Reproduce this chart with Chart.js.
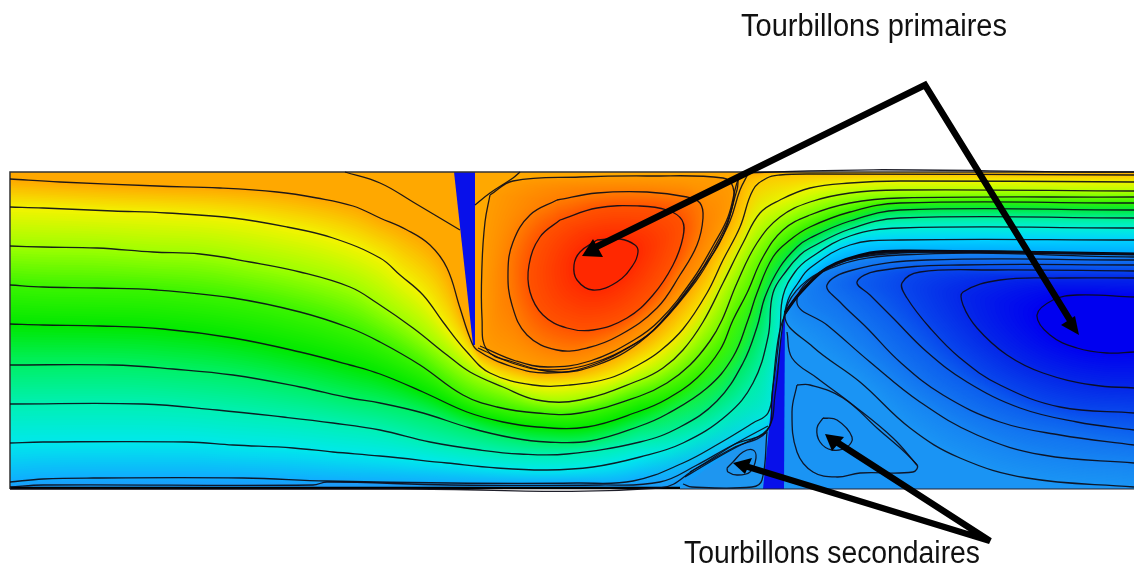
<!DOCTYPE html>
<html>
<head>
<meta charset="utf-8">
<style>body{margin:0;background:#fff}canvas{display:block}</style>
<script src="https://cdn.jsdelivr.net/npm/chart.js@4"></script>
</head>
<body>
<canvas id="myChart" width="1134" height="566"></canvas>
<script>
// streamlines of the channel, top to bottom
const streamA = [[10,179],[60,182],[157,186],[220,188],[277,192],[317,198],[353,206],[380,218],[407,230],[430,245],[447,268],[460,308],[470,338],[477,350],[513,367],[547,373],[587,367],[633,345],[657,327],[693,283],[713,250],[727,223],[737,190],[743,173],[1134,172]];
const streamB = [[10,207],[43,208],[113,211],[167,213],[233,218],[287,227],[333,238],[380,258],[400,275],[423,295],[443,322],[467,352],[490,373],[533,385],[570,385],[610,378],[640,364],[660,351],[683,329],[707,293],[723,260],[740,227],[753,190],[767,178],[780,175],[810,174],[1134,175]];
const streamC = [[10,246],[43,247],[97,248],[153,252],[200,254],[250,262],[300,272],[350,287],[377,303],[413,328],[447,355],[470,372],[503,387],[537,400],[580,400],[640,380],[663,368],[683,350],[703,322],[723,283],[743,243],[760,213],[780,200],[810,188],[850,183],[900,181],[1134,182]];
const streamD = [[10,285],[43,287],[97,288],[157,290],[233,298],[300,312],[350,328],[380,342],[420,365],[463,395],[497,407],[537,413],[580,413],[640,396],[667,383],[690,365],[710,341],[722,320],[737,283],[757,243],[780,217],[810,202],[850,193],[900,190],[1134,191]];
const streamE = [[10,324],[43,325],[100,326],[163,329],[233,338],[300,352],[350,365],[380,374],[423,392],[467,412],[503,422],[537,427],[587,427],[640,411],[667,399],[697,378],[720,350],[733,320],[747,293],[763,257],[783,230],[810,215],[850,203],[900,198],[1134,197]];
const streamF = [[10,365],[113,365],[173,369],[233,375],[300,387],[350,398],[380,403],[423,413],[470,428],[513,438],[547,442],[590,441],[640,426],[667,414],[707,388],[733,357],[748,320],[757,293],[773,257],[790,240],[810,227],[850,212],[900,203],[1134,203]];
const streamG = [[10,404],[143,404],[217,410],[283,417],[333,423],[380,430],[430,442],[480,450],[520,454],[567,454],[640,442],[680,427],[717,401],[743,363],[757,327],[765,297],[780,267],[797,247],[810,238],[850,221],[900,210],[1134,210]];
const streamH = [[10,443],[43,442],[187,442],[233,445],[293,448],[333,452],[380,456],[447,463],[497,468],[547,470],[593,467],[640,457],[683,443],[727,415],[753,383],[768,337],[773,293],[787,270],[800,255],[810,248],[850,229],[900,218],[1134,218]];
const streamI = [[10,482],[43,479],[93,478],[243,478],[327,481],[450,483],[577,483],[633,481],[683,463],[720,443],[753,423],[768,413],[773,387],[780,330],[783,296],[795,272],[810,258],[850,236],[900,228],[1134,228]];
const streamJ = [[10,487],[43,485],[313,485],[327,482],[450,485],[600,485],[660,482],[697,465],[733,445],[767,430],[775,395],[782,330],[788,300],[798,283],[810,268],[850,245],[900,240],[1134,240]];
const streamK = [[10,489],[400,489],[660,488],[697,468],[733,448],[767,431],[772,395],[778,340],[785,315],[800,293],[827,268],[870,255],[910,252],[1134,254]];

// lines doubling the dividing streamline, and the short ones by the top wedge
const bundleA = [[478,348],[515,364],[547,370],[590,364],[636,343],[660,324],[696,281],[716,248],[730,221],[740,190],[748,174]];
const bundleB = [[480,346],[516,361],[548,367],[590,361],[634,340],[660,320],[693,279],[714,244],[728,217],[736,186],[740,174]];
const wedgeLeftLine = [[345,172],[380,183],[413,202],[460,230]];
const wedgeRightLine = [[475,205],[490,193],[513,178],[520,172]];
const hatchA = [[685,477],[700,468],[733,449],[766,433]];
const hatchB = [[690,472],[705,463],[735,444],[768,426]];

// closed contours of the red vortex, outer to inner
const redLoop0 = [[490,195],[513,181],[580,177],[647,176],[723,178],[733,187],[732,208],[720,242],[700,272],[673,308],[640,342],[597,365],[557,372],[513,362],[487,350],[482,318],[482,265],[485,222],[490,195]];
const redLoop1 = [[557,200],[597,193],[647,192],[687,197],[700,203],[703,218],[697,245],[680,275],[657,308],[620,335],[587,348],[557,350],[527,335],[512,305],[508,272],[513,242],[530,215],[557,200]];
const redLoop2 = [[560,220],[597,208],[640,206],[667,210],[682,220],[683,237],[673,265],[653,295],[627,318],[593,330],[567,328],[543,315],[530,292],[529,265],[540,237],[560,220]];
const redLoop3 = [[597,240],[620,239],[635,245],[638,252],[633,265],[617,282],[593,290],[577,280],[574,265],[580,252],[597,240]];

// contours of the blue vortex, they leave through the right edge
const blueLine7 = [[1134,254],[900,253],[820,272],[785,315],[813,347],[860,382],[910,428],[960,458],[1027,478],[1134,487]];
const blueLine6 = [[1134,257],[900,255],[820,273],[797,303],[827,325],[870,362],[920,402],[977,435],[1043,455],[1134,463]];
const blueLine5 = [[1134,260],[927,260],[853,270],[827,285],[840,302],[867,328],[900,362],[943,395],[1000,422],[1060,435],[1134,445]];
const blueLine4 = [[1134,265],[960,265],[877,271],[857,282],[870,295],[893,318],[927,352],[967,382],[1020,408],[1077,422],[1134,430]];
const blueLine3 = [[1134,271],[993,270],[920,272],[902,283],[907,298],[930,328],[960,358],[1000,385],[1060,407],[1134,413]];
const blueLine2 = [[1134,278],[1060,278],[1000,280],[963,292],[963,305],[977,328],[1007,355],[1043,373],[1093,385],[1134,388]];
const blueLine1 = [[1134,297],[1077,295],[1053,300],[1037,315],[1050,335],[1077,348],[1107,353],[1134,352]];

// secondary vortices
const secRightOuter = [[797,385],[810,385],[843,398],[877,428],[917,465],[913,472],[860,473],[837,477],[813,472],[797,452],[792,412],[797,385]];
const secRightLine = [[787,332],[792,358],[817,378],[853,405],[893,438],[917,465]];
const secRightInner = [[823,418],[837,420],[852,437],[847,447],[832,450],[820,442],[817,428],[823,418]];
const secLeftInner = [[727,468],[733,462],[743,452],[753,450],[756,458],[750,472],[737,475],[728,472],[727,468]];
const secLeftOuter = [[683,484],[692,487],[752,487],[762,480],[767,432]];
const secLeftEdge = [[682,488],[707,468],[735,449],[767,431],[764,488],[682,488]];

// the two thin blue obstacles
const wedgeTop = [[454,172],[475,172],[475,345],[473,345],[454,172]];
const wedgeBottom = [[785,312],[784,489],[763,489],[772,398],[785,312]];

// walls and the dividing line over the step
const frameLine = [[10,489],[10,172],[1134,172]];
const bottomWall = [[10,488],[680,488]];
const bottomWallEnd = [[680,489],[1134,489]];
const stepLine = [[785,313],[800,293],[827,268],[870,253],[910,251],[1134,254]];
const stepBlock = [[1134,254],[910,252],[870,255],[827,268],[800,293],[785,315],[784,489],[1134,489],[1134,254]];

// annotation arrows
const arrowPrimary = [[590,250],[925,85],[1073,325]];
const arrowSecondary = [[745,466],[990,541],[835,441]];
const headA = [[582,256],[593,239],[603,257],[582,256]];
const headB = [[1079,335],[1061,325],[1075,316],[1079,335]];
const headC = [[733,463],[752,458],[745,474],[733,463]];
const headD = [[825,434],[844,437],[832,451],[825,434]];

const labelTexts = ["Tourbillons primaires", "Tourbillons secondaires"];
const labelX = [741, 684];
const labelY = [36, 563];
const labelW = [266, 296];

const channelStreams = [streamA, streamB, streamC, streamD, streamE, streamF, streamG, streamH, streamI, streamJ, streamK];
const channelColors = ["#ffa800", "#f2f400", "#9cff00", "#38f400", "#00e800", "#00f068", "#00f0b4", "#00e8ec", "#10aaff", "#1c9cf8", "#1e96f4"];
const channelColorsRight = ["#ffa800", "#ffc400", "#eef400", "#b4ff00", "#70ff00", "#30f000", "#00e840", "#00f094", "#00f0d8", "#00d0ff", "#00a8ff"];
const redLoops = [redLoop0, redLoop1, redLoop2, redLoop3];
const redColors = ["#ff9c00", "#ff7c00", "#ff5200", "#ff2800"];
const blueLines = [blueLine7, blueLine6, blueLine5, blueLine4, blueLine3, blueLine2, blueLine1];
const blueColors = ["#1a94f4", "#1684f2", "#1272f0", "#0c5eee", "#0846ec", "#0426e8", "#0000f0"];

const curved = [].concat(channelStreams, redLoops, blueLines, [bundleA, bundleB, wedgeLeftLine, wedgeRightLine, hatchA, hatchB,
  secRightOuter, secRightLine, secRightInner, secLeftInner, secLeftOuter]);

function ds(points, opts) {
  return Object.assign({
    data: points.map(p => ({ x: p[0], y: p[1] })),
    source: points,
    showLine: true,
    pointRadius: 0,
    borderColor: "rgba(12,12,24,0.92)",
    borderWidth: 1.3,
    tension: 0,
    order: 2,
  }, opts);
}

var datasets = curved.map(c => ds(c, { tension: 0.4 }));
datasets.push(ds(stepBlock, { borderWidth: 0 }));
[[secLeftEdge, "#1e96f0"], [wedgeTop, "#0810ea"], [wedgeBottom, "#0810ea"]].forEach(p => datasets.push(ds(p[0], { borderWidth: 0, solid: p[1] })));
[headA, headB, headC, headD].forEach(h => datasets.push(ds(h, { borderWidth: 0, solidTop: "#000", order: 0 })));
datasets.push(ds(frameLine, { borderColor: "#333", borderWidth: 1.5 }));
datasets.push(ds(bottomWall, { borderColor: "#000", borderWidth: 2.5 }));
datasets.push(ds(bottomWallEnd, { borderColor: "#223", borderWidth: 1.2 }));
datasets.push(ds(stepLine, { borderColor: "#050510", borderWidth: 3, tension: 0.3 }));
datasets.push(ds(arrowPrimary, { borderColor: "#000", borderWidth: 6.5, order: 1, borderJoinStyle: "miter" }));
datasets.push(ds(arrowSecondary, { borderColor: "#000", borderWidth: 6.5, order: 1, borderJoinStyle: "bevel" }));

// outline of one dataset in pixels, following the curve the library strokes
function outline(chart, source) {
  const idx = datasets.findIndex(d => d.source === source);
  const meta = chart.getDatasetMeta(idx);
  const pts = meta.data;
  meta.dataset.updateControlPoints(chart.chartArea, "x");
  const out = [[pts[0].x, pts[0].y]];
  for (let i = 0; i < pts.length - 1; i++) {
    const a = pts[i], b = pts[i + 1];
    if (!meta.dataset.options.tension) { out.push([b.x, b.y]); continue; }
    for (let s = 1; s <= 8; s++) {
      const t = s / 8, u = 1 - t;
      out.push([
        u*u*u*a.x + 3*u*u*t*a.cp2x + 3*u*t*t*b.cp1x + t*t*t*b.x,
        u*u*u*a.y + 3*u*u*t*a.cp2y + 3*u*t*t*b.cp1y + t*t*t*b.y,
      ]);
    }
  }
  return out;
}

function resample(line, n) {
  const lens = [0];
  for (let i = 1; i < line.length; i++) {
    lens.push(lens[i-1] + Math.hypot(line[i][0]-line[i-1][0], line[i][1]-line[i-1][1]));
  }
  const total = lens[lens.length-1];
  const out = [];
  let j = 0;
  for (let i = 0; i < n; i++) {
    const d = total * i / (n-1);
    while (j < line.length-2 && lens[j+1] < d) j++;
    const t = (d - lens[j]) / Math.max(lens[j+1] - lens[j], 1e-6);
    out.push([line[j][0] + t*(line[j+1][0]-line[j][0]), line[j][1] + t*(line[j+1][1]-line[j][1])]);
  }
  return out;
}

function mix(c1, c2, t) {
  const v = (c, i) => parseInt(c.substr(1 + i*2, 2), 16);
  const r = [0,1,2].map(i => Math.round(v(c1,i) + t*(v(c2,i)-v(c1,i))));
  return "rgb(" + r.join(",") + ")";
}

// paints the smooth colour field between neighbouring contours, outermost first.
// with colorsRight the palette changes along x between 640 and 790
function paintField(chart, lines, colors, closure, colorsRight) {
  const ctx = chart.ctx;
  const xs = chart.scales.x, ys = chart.scales.y;
  const corners = closure.map(c => [xs.getPixelForValue(c[0]), ys.getPixelForValue(c[1])]);
  const sampled = lines.map(l => resample(outline(chart, l), 320));
  for (let k = 0; k < sampled.length; k++) {
    const a = sampled[k];
    const b = sampled[k+1] || a;
    const steps = sampled[k+1] ? 16 : 1;
    for (let s = 0; s < steps; s++) {
      const t = s / steps;
      const left = sampled[k+1] ? mix(colors[k], colors[k+1], t) : colors[k];
      if (colorsRight) {
        const grad = ctx.createLinearGradient(xs.getPixelForValue(640), 0, xs.getPixelForValue(790), 0);
        grad.addColorStop(0, left);
        grad.addColorStop(1, sampled[k+1] ? mix(colorsRight[k], colorsRight[k+1], t) : colorsRight[k]);
        ctx.fillStyle = grad;
      } else {
        ctx.fillStyle = left;
      }
      ctx.beginPath();
      for (let i = 0; i < a.length; i++) {
        const x = a[i][0] + t*(b[i][0]-a[i][0]);
        const y = a[i][1] + t*(b[i][1]-a[i][1]);
        if (i == 0) ctx.moveTo(x, y); else ctx.lineTo(x, y);
      }
      corners.forEach(c => ctx.lineTo(c[0], c[1]));
      ctx.closePath();
      ctx.fill();
    }
  }
}

function fillSolid(chart, prop) {
  datasets.forEach((d, i) => {
    if (!d[prop]) return;
    const pts = chart.getDatasetMeta(i).data;
    chart.ctx.fillStyle = d[prop];
    chart.ctx.beginPath();
    pts.forEach((p, j) => j == 0 ? chart.ctx.moveTo(p.x, p.y) : chart.ctx.lineTo(p.x, p.y));
    chart.ctx.closePath();
    chart.ctx.fill();
  });
}

const fieldPlugin = {
  id: "field",
  beforeDatasetsDraw(chart) {
    const ctx = chart.ctx;
    const xs = chart.scales.x, ys = chart.scales.y;
    const x0 = xs.getPixelForValue(10), x1 = xs.getPixelForValue(1134);
    const y0 = ys.getPixelForValue(172), y1 = ys.getPixelForValue(489);
    ctx.save();
    ctx.beginPath();
    ctx.rect(x0, y0, x1 - x0, y1 - y0);
    ctx.clip();
    ctx.fillStyle = "#ffa800";
    ctx.fillRect(x0, y0, x1 - x0, y1 - y0);
    paintField(chart, channelStreams, channelColors, [[1134,489],[10,489]], channelColorsRight);
    paintField(chart, redLoops, redColors, []);
    paintField(chart, [stepBlock], ["#1a94f4"], []);
    paintField(chart, blueLines, blueColors, []);
    fillSolid(chart, "solid");
    ctx.restore();
  },
  afterDatasetsDraw(chart) {
    fillSolid(chart, "solidTop");
    const ctx = chart.ctx;
    ctx.save();
    ctx.fillStyle = "#111";
    ctx.font = "31px 'Liberation Sans'";
    ctx.textBaseline = "alphabetic";
    labelTexts.forEach((t, i) => {
      ctx.fillText(t, chart.scales.x.getPixelForValue(labelX[i]), chart.scales.y.getPixelForValue(labelY[i]), labelW[i]);
    });
    ctx.restore();
  },
};

new Chart(document.getElementById("myChart"), {
  type: "scatter",
  data: { datasets: datasets },
  options: {
    responsive: false,
    animation: false,
    events: [],
    layout: { padding: 0 },
    plugins: { legend: { display: false }, tooltip: { enabled: false } },
    scales: {
      x: { display: false, min: 0, max: 1134 },
      y: { display: false, min: 0, max: 566, reverse: true },
    },
  },
  plugins: [fieldPlugin],
});
</script>
</body>
</html>
